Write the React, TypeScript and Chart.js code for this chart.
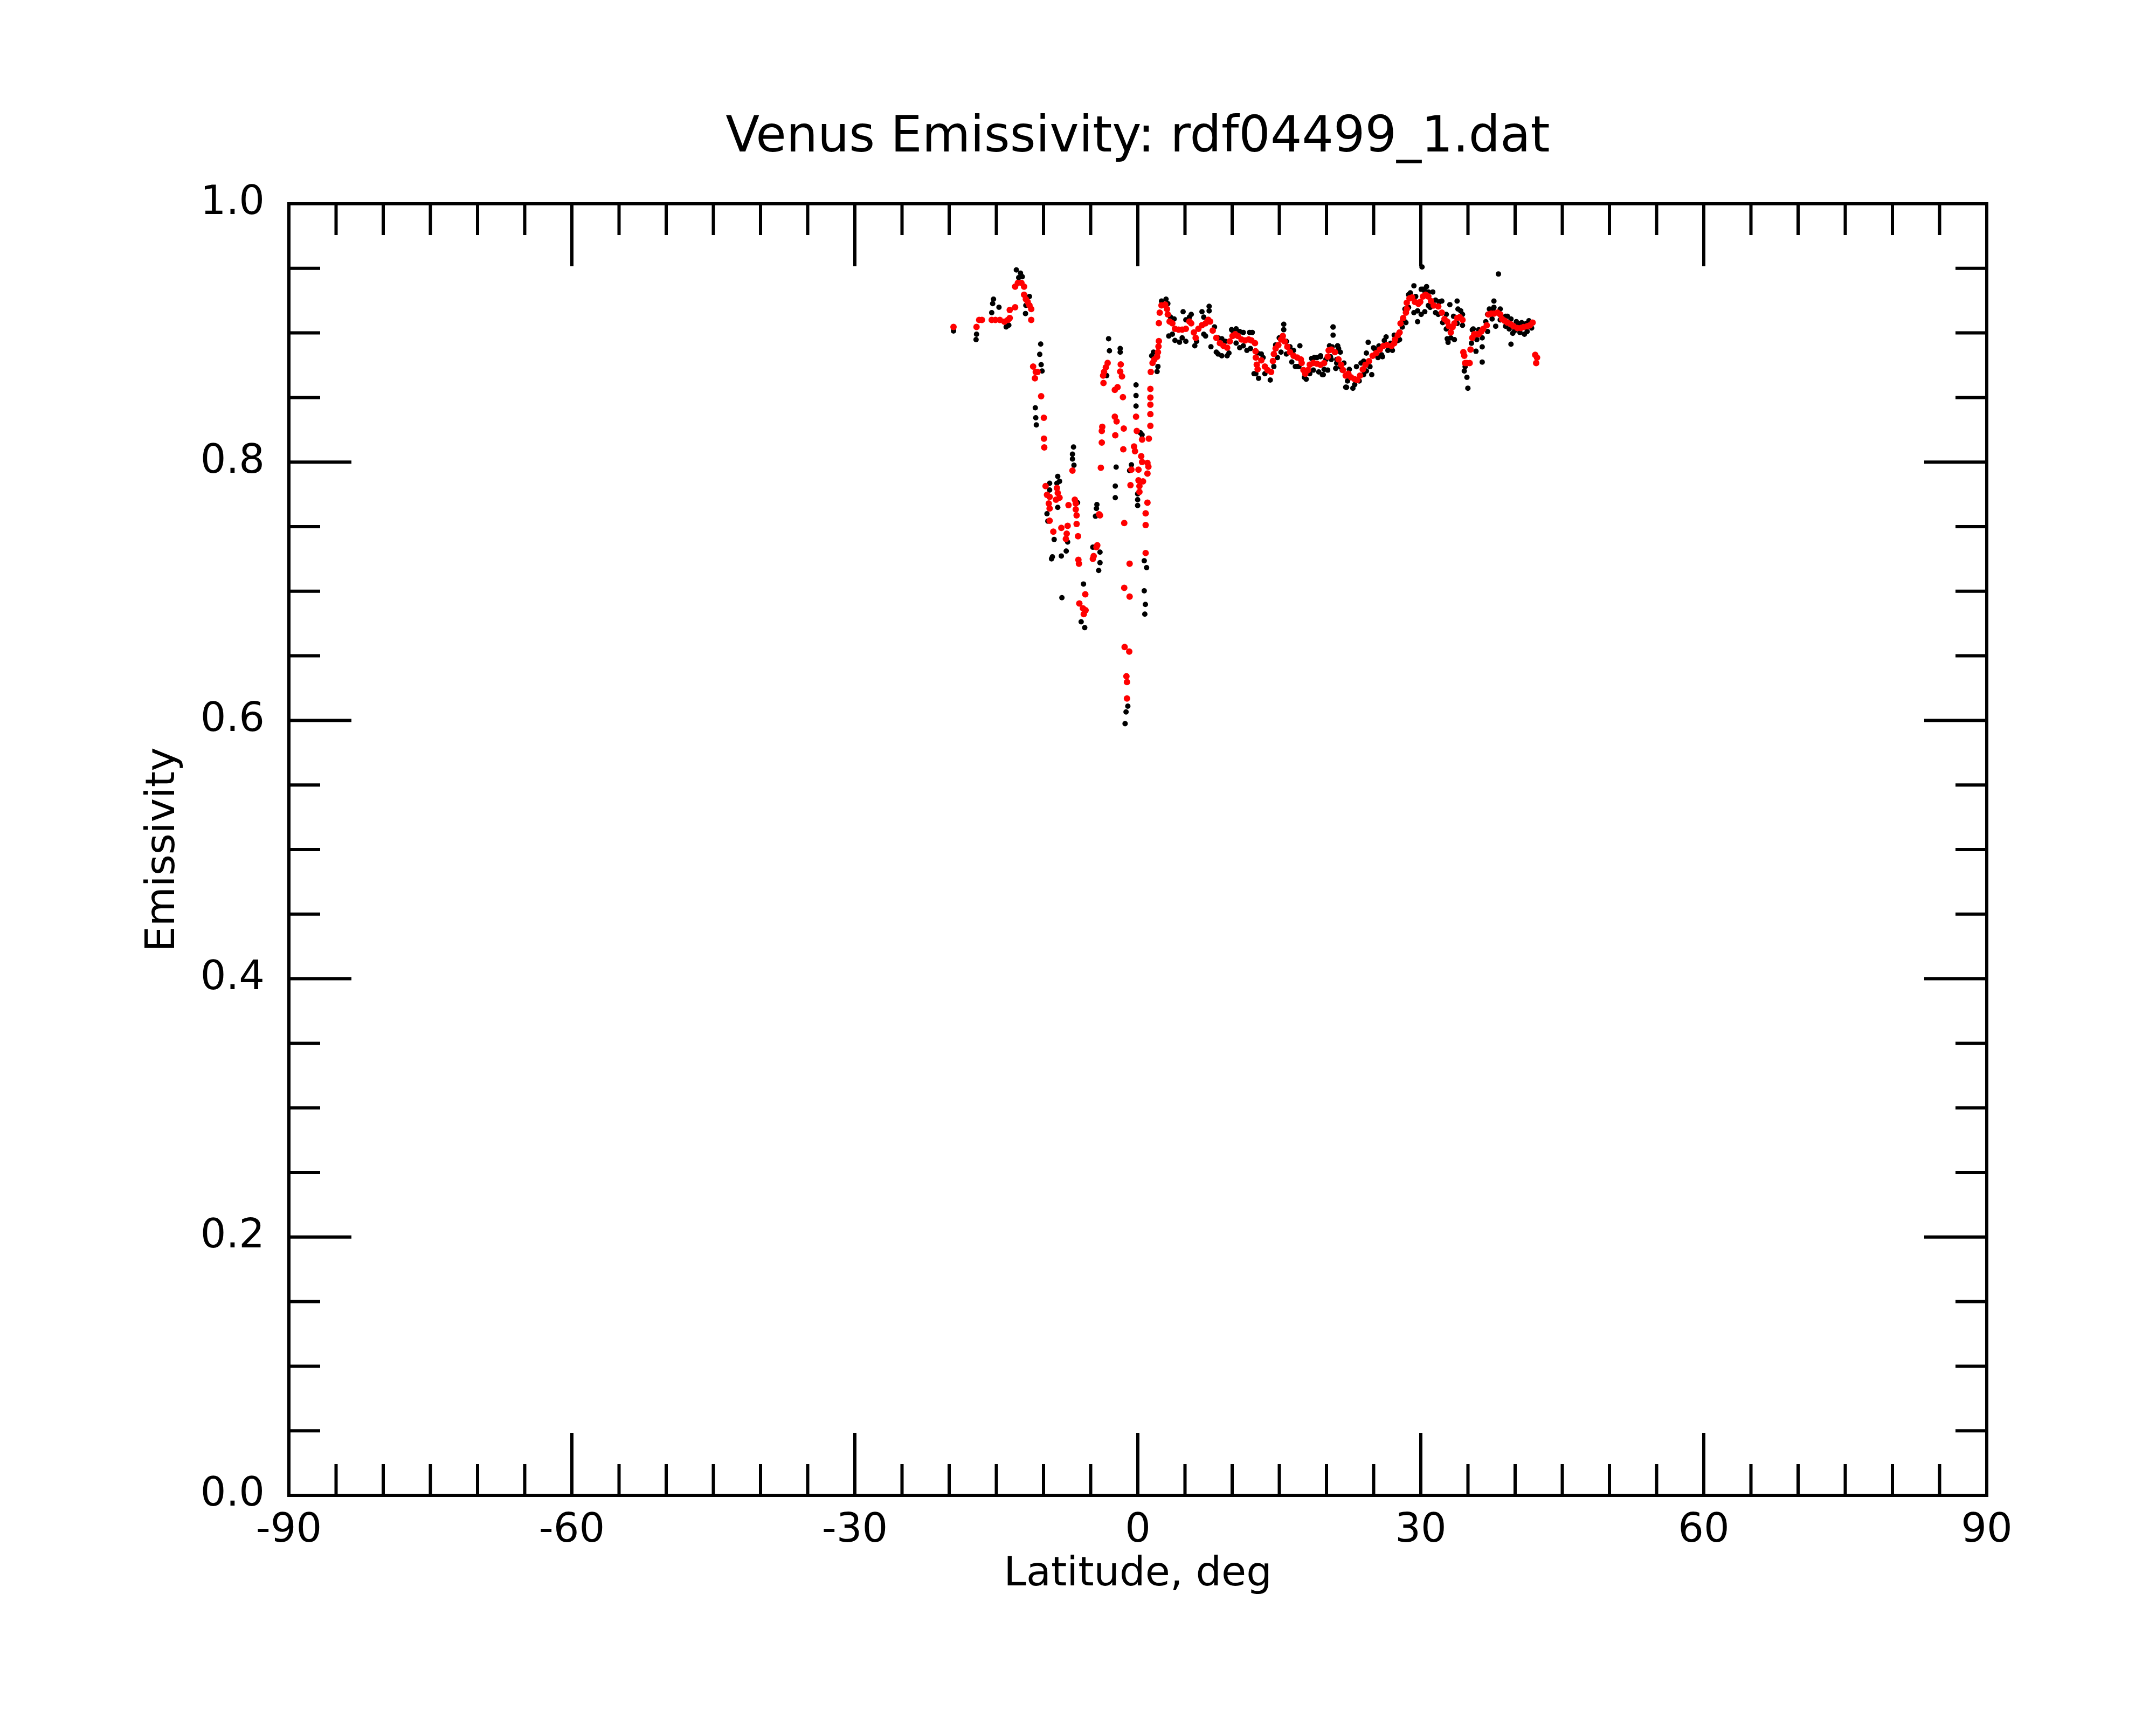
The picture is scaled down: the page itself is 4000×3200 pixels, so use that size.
import React, { useEffect, useRef } from "react";
import { Chart, registerables } from "chart.js";

Chart.register(...registerables);

const TITLE = "Venus Emissivity: rdf04499_1.dat";
const X_TITLE = "Latitude, deg";
const Y_TITLE = "Emissivity";
const X_MIN = -90;
const X_MAX = 90;
const X_STEP = 30;
const X_MINOR = 5;
const Y_MIN = 0;
const Y_MAX = 1;
const Y_STEP = 0.2;
const Y_MINOR = 0.05;

// [latitude, emissivity] pairs
const redSouth: [number, number][] = [
  [-19.54, 0.9046], [-17.1, 0.9046], [-16.82, 0.9101], [-16.53, 0.9101], [-15.49, 0.9101], [-15.1, 0.9101],
  [-14.63, 0.9101], [-14.15, 0.9087], [-13.77, 0.9101], [-13.58, 0.9115], [-13.58, 0.9178], [-13.01, 0.9199],
  [-13.01, 0.9358], [-12.72, 0.9387], [-12.34, 0.9387], [-12.06, 0.9358], [-12.06, 0.9296], [-11.87, 0.9261],
  [-11.68, 0.924], [-11.49, 0.9213], [-11.3, 0.9185], [-11.3, 0.9101], [-11.1, 0.874], [-10.91, 0.8649],
  [-10.82, 0.8698], [-10.63, 0.8698], [-10.25, 0.851], [-9.96, 0.8343], [-9.95, 0.8181], [-9.92, 0.8114],
];

const redTrough: [number, number][] = [
  [-9.78, 0.7814], [-8.58, 0.7799], [-9.63, 0.7746], [-9.35, 0.7731], [-8.49, 0.7761], [-8.3, 0.7724],
  [-8.68, 0.7709], [-9.44, 0.7679], [-9.35, 0.7641], [-9.35, 0.7546], [-8.96, 0.7461], [-8.11, 0.7491],
  [-7.44, 0.7506], [-7.54, 0.7446], [-7.63, 0.7405], [-7.35, 0.7667], [-6.93, 0.7934], [-6.68, 0.7709],
  [-6.58, 0.7679], [-6.58, 0.7634], [-6.49, 0.7588], [-6.49, 0.7521], [-6.34, 0.7426], [-6.3, 0.7243],
  [-6.24, 0.7213], [-5.57, 0.6976], [-6.2, 0.6905], [-5.82, 0.6868], [-5.54, 0.6853], [-5.73, 0.6823],
  [-4.11, 0.7596], [-4.01, 0.7588], [-4.3, 0.7356], [-4.39, 0.7341], [-4.77, 0.7251], [-4.68, 0.7273],
  [-3.82, 0.8241], [-3.82, 0.8151], [-3.92, 0.7956], [-2.39, 0.8207], [-1.54, 0.8099], [-1.44, 0.7528],
  [-1.44, 0.7026], [-0.87, 0.6958], [-0.87, 0.7213], [-1.4, 0.6568], [-0.91, 0.6533], [-1.21, 0.6342],
  [-1.15, 0.6297], [-1.15, 0.617],
  [-3.2, 0.8768], [-3.39, 0.8733], [-3.58, 0.8698], [-3.68, 0.867], [-1.81, 0.8756], [-1.87, 0.8701],
  [-1.68, 0.8663], [-3.64, 0.8612], [-2.15, 0.858], [-2.44, 0.8559], [-1.58, 0.8503], [-0.19, 0.8351],
  [-3.77, 0.8273], [-2.44, 0.8351], [-2.25, 0.8315], [-1.49, 0.826],
  [-0.11, 0.8241], [0.45, 0.8174], [1.17, 0.8181], [-0.4, 0.8121], [-0.3, 0.8084], [0.36, 0.8046],
  [0.45, 0.8001], [1.02, 0.7994], [1.12, 0.7964], [1.02, 0.7911], [0.07, 0.7941], [-0.68, 0.7941],
  [-0.78, 0.7821], [0.07, 0.7859], [0.55, 0.7851], [0.17, 0.7814], [0.17, 0.7769], [1.02, 0.7686],
  [0.83, 0.7603], [0.83, 0.7513], [0.83, 0.7296],
  [1.33, 0.8566], [1.33, 0.85], [1.33, 0.8444], [1.33, 0.8371], [1.33, 0.828],
  [1.37, 0.8698], [1.56, 0.8768], [1.75, 0.8795], [2.04, 0.8816], [2.13, 0.8851], [2.19, 0.8895],
  [2.23, 0.8937], [2.23, 0.9076], [2.32, 0.9157], [2.51, 0.9213], [2.9, 0.922], [3.09, 0.9185],
];

const redNorth: [number, number][] = [
  [3.18, 0.9143], [3.37, 0.9088], [3.66, 0.9074], [3.94, 0.9032], [4.32, 0.9025], [4.7, 0.9025],
  [5.09, 0.9032], [5.47, 0.9088], [5.66, 0.9074], [5.94, 0.9004], [6.13, 0.8962], [6.42, 0.9032],
  [6.8, 0.906], [7.18, 0.9074], [7.47, 0.9102], [7.66, 0.9088], [7.94, 0.9018], [8.32, 0.8962],
  [8.7, 0.8921], [9.08, 0.89], [9.47, 0.8886], [9.75, 0.8935], [10.04, 0.8976], [10.32, 0.899],
  [10.61, 0.8976], [10.99, 0.8949], [11.37, 0.8942], [11.75, 0.8949], [12.04, 0.8942], [12.42, 0.8921],
  [12.48, 0.8858], [12.51, 0.8809], [12.61, 0.8754], [12.7, 0.8719], [13.09, 0.8788], [13.47, 0.874],
  [13.75, 0.8712], [14.13, 0.8698], [14.32, 0.8782], [14.42, 0.8837], [14.61, 0.8879], [14.9, 0.8907],
  [15.18, 0.8949], [15.37, 0.8976], [15.56, 0.8935], [15.85, 0.8893], [16.13, 0.8851], [16.51, 0.8823],
  [16.9, 0.8809], [17.28, 0.8795], [17.37, 0.8768], [17.56, 0.8712], [17.75, 0.8684], [18.04, 0.8712],
  [18.23, 0.8754], [18.61, 0.8768], [18.99, 0.8761],
  [19.37, 0.8753], [19.75, 0.8767], [20.13, 0.8816], [20.23, 0.8865], [20.51, 0.8871], [20.89, 0.8851],
  [21.27, 0.8795], [21.56, 0.8753], [21.75, 0.8712], [22.04, 0.867], [22.32, 0.8684], [22.61, 0.8656],
  [22.99, 0.8642], [23.27, 0.8635], [23.56, 0.867], [23.85, 0.8718], [24.13, 0.8753], [24.51, 0.8781],
  [24.89, 0.8823], [25.27, 0.8844], [25.66, 0.8871], [26.04, 0.8899], [26.42, 0.8906], [26.89, 0.8899],
  [27.18, 0.892], [27.27, 0.8948], [27.56, 0.8983], [27.75, 0.9004], [27.85, 0.9073], [28.13, 0.9115],
  [28.42, 0.9157], [28.51, 0.9185], [28.51, 0.9233], [28.8, 0.9268], [29.08, 0.9275], [29.37, 0.924],
  [29.75, 0.9226], [29.94, 0.924], [30.23, 0.9282], [30.51, 0.9296], [30.8, 0.9282], [31.08, 0.9247],
  [31.37, 0.9212], [31.85, 0.9205], [32.23, 0.9157], [32.51, 0.9108], [32.8, 0.9087], [32.99, 0.9052],
  [33.18, 0.9004], [33.37, 0.9045], [33.56, 0.9073], [33.85, 0.9115], [34.13, 0.9122], [34.42, 0.9101],
  [34.51, 0.8851], [34.61, 0.8823], [34.7, 0.8767], [34.89, 0.8767], [35.18, 0.8767], [35.27, 0.8871],
  [35.46, 0.8962], [35.66, 0.899], [35.94, 0.899], [36.13, 0.899], [36.42, 0.9011], [36.61, 0.9031],
  [36.99, 0.9059], [37.18, 0.9143], [37.46, 0.915], [37.75, 0.915], [38.13, 0.9157], [38.42, 0.9143],
  [38.61, 0.9108], [38.89, 0.9094], [39.18, 0.908], [39.56, 0.9066], [39.85, 0.9052], [40.23, 0.9038],
  [40.61, 0.9038], [40.89, 0.9045], [41.27, 0.9052], [41.56, 0.9059], [41.85, 0.908], [42.13, 0.883],
  [42.32, 0.8809], [42.23, 0.8767],
];

const blackSouth: [number, number][] = [
  [-19.54, 0.9015], [-17.1, 0.899], [-17.15, 0.8948], [-15.3, 0.9261], [-15.39, 0.9227], [-14.72, 0.9199],
  [-15.49, 0.9157], [-13.96, 0.9046], [-13.68, 0.906], [-12.88, 0.9488], [-12.44, 0.9463], [-12.25, 0.9435],
  [-12.63, 0.9428], [-11.49, 0.9282], [-11.87, 0.9213], [-11.91, 0.915], [-10.3, 0.8914], [-10.4, 0.8834],
  [-10.25, 0.8754], [-10.15, 0.8705], [-10.87, 0.842], [-10.82, 0.8343], [-10.76, 0.8288],
];

const blackTrough: [number, number][] = [
  [-6.82, 0.8117], [-6.93, 0.8061], [-6.93, 0.8024], [-6.77, 0.7976], [-9.35, 0.7836], [-8.49, 0.7889],
  [-8.3, 0.7851], [-8.58, 0.7836], [-9.35, 0.7784], [-8.49, 0.7649], [-9.63, 0.76], [-9.54, 0.7543],
  [-8.87, 0.7401], [-7.44, 0.7381], [-7.59, 0.7311], [-8.11, 0.7273], [-9.06, 0.7266], [-9.15, 0.7251],
  [-6.39, 0.7686], [-8.05, 0.695], [-5.76, 0.7056], [-6.01, 0.6763], [-5.63, 0.6718], [-4.34, 0.7671],
  [-4.39, 0.7641], [-4.49, 0.7581], [-4.77, 0.7341], [-4.01, 0.7303], [-4.01, 0.7221], [-4.15, 0.7161],
  [-2.3, 0.7961], [-2.39, 0.7814], [-2.39, 0.7724], [-1.06, 0.611], [-1.25, 0.6065], [-1.35, 0.5975],
  [0.26, 0.8227], [0.45, 0.8211], [-0.68, 0.7979], [-0.87, 0.7934], [-0.02, 0.7754], [-0.02, 0.7709],
  [-0.02, 0.7664], [0.68, 0.7236], [0.93, 0.7183], [0.68, 0.7003], [0.8, 0.6898], [0.74, 0.6823],
  [-3.1, 0.8955], [-3.01, 0.8862], [-1.87, 0.8879], [-1.87, 0.8851], [-3.3, 0.867], [-0.19, 0.8598],
  [-0.19, 0.8515], [-0.19, 0.8434],
  [1.47, 0.8823], [1.66, 0.8851], [2.13, 0.874], [2.04, 0.8701], [2.51, 0.9247], [2.99, 0.9261],
  [3.18, 0.9227],
];

const blackNorth: [number, number][] = [
  [4.8, 0.9164], [5.66, 0.9143], [6.8, 0.9164], [7.56, 0.9206], [7.56, 0.9171], [3.28, 0.8976],
  [3.94, 0.8942], [4.42, 0.8928], [5.09, 0.8935], [6.04, 0.89], [7.75, 0.8893], [8.51, 0.8837],
  [9.47, 0.8823], [10.04, 0.9018], [10.8, 0.8886], [11.56, 0.8865], [11.85, 0.9004], [12.51, 0.8684],
  [12.8, 0.8649], [14.04, 0.8635], [13.09, 0.8837], [15.47, 0.9067], [15.47, 0.9025], [14.8, 0.8809],
  [16.32, 0.8775], [16.9, 0.874], [17.18, 0.89], [17.66, 0.8656], [18.7, 0.8809], [19.37, 0.8823],
  [19.56, 0.8677], [20.7, 0.9046], [20.7, 0.8983], [21.18, 0.89], [20.99, 0.8726], [22.04, 0.858],
  [3.47, 0.9122], [3.85, 0.9108], [5.09, 0.9102], [5.47, 0.9122], [6.99, 0.9122], [8.13, 0.9046],
  [8.51, 0.8962], [8.9, 0.8955], [9.28, 0.8935], [9.94, 0.9025], [10.42, 0.9032], [10.8, 0.9011],
  [11.18, 0.9004], [12.13, 0.9004], [12.7, 0.8844], [13.28, 0.8809], [14.61, 0.8907], [14.99, 0.8962],
  [15.75, 0.8935], [16.13, 0.8893], [16.51, 0.8865], [18.42, 0.8802], [18.99, 0.8809], [19.94, 0.8795],
  [20.32, 0.89], [21.28, 0.8879],
  [3.66, 0.899], [4.7, 0.8962], [6.23, 0.8935], [6.99, 0.899], [7.18, 0.8976], [8.32, 0.8851],
  [8.9, 0.8823], [9.66, 0.8844], [10.42, 0.8921], [11.18, 0.89], [11.94, 0.8879], [12.32, 0.8684],
  [13.47, 0.8684], [14.42, 0.874], [15.18, 0.8851], [15.75, 0.8837], [16.7, 0.874], [17.08, 0.874],
  [17.85, 0.8642], [18.23, 0.8684], [18.61, 0.8712], [19.18, 0.8698], [20.13, 0.8712], [20.51, 0.8795],
  [21.09, 0.8795], [21.47, 0.874],
  [19.37, 0.8816], [19.66, 0.8677], [20.7, 0.9045], [20.61, 0.8892], [21.18, 0.8899], [21.47, 0.8851],
  [20.99, 0.8725], [22.13, 0.8579], [22.8, 0.8572], [23.18, 0.8739], [24.23, 0.8705], [24.8, 0.8677],
  [24.42, 0.8927], [24.23, 0.8844], [24.99, 0.8885], [25.94, 0.8816], [26.32, 0.8969], [26.61, 0.8878],
  [27.18, 0.8983], [27.75, 0.8948], [28.42, 0.908], [28.89, 0.931], [29.27, 0.9365], [30.23, 0.9338],
  [30.61, 0.9358], [31.27, 0.9317], [30.99, 0.9198], [29.66, 0.9171], [30.42, 0.9164], [29.66, 0.9087],
  [30.04, 0.9338], [30.13, 0.9511], [32.23, 0.9247], [33.08, 0.9219], [33.85, 0.9247], [33.94, 0.9185],
  [32.8, 0.8955], [32.89, 0.8927], [33.56, 0.8948], [33.18, 0.9004], [31.85, 0.9143], [34.61, 0.8705],
  [34.89, 0.8656], [34.99, 0.8572], [35.46, 0.9024], [35.85, 0.8858], [36.51, 0.8892], [36.51, 0.8774],
  [37.75, 0.9247], [37.75, 0.9198], [38.23, 0.9456], [37.08, 0.9143], [37.94, 0.9052], [39.18, 0.9129],
  [39.37, 0.9031], [39.75, 0.8997], [39.56, 0.8913], [40.99, 0.899], [41.18, 0.9073], [40.32, 0.9073],
  [21.85, 0.8767], [22.42, 0.8718], [23.66, 0.8767], [23.94, 0.8781], [25.08, 0.8878], [25.56, 0.8899],
  [26.13, 0.8941], [26.8, 0.892], [27.37, 0.8976], [28.08, 0.9108], [28.32, 0.9185], [28.7, 0.9296],
  [29.46, 0.9282], [30.42, 0.9324], [30.8, 0.9317], [31.56, 0.9254], [31.94, 0.924], [32.7, 0.9143],
  [33.47, 0.9129], [34.23, 0.9171], [34.42, 0.9143], [35.56, 0.9031], [36.13, 0.9024], [36.89, 0.9087],
  [37.27, 0.9185], [37.66, 0.9185], [38.42, 0.9185], [38.99, 0.9129], [39.56, 0.9108], [40.13, 0.9087],
  [40.7, 0.908], [41.46, 0.9094],
  [19.75, 0.8718], [20.42, 0.8816], [21.08, 0.8767], [21.66, 0.8712], [22.23, 0.8628], [22.99, 0.86],
  [23.47, 0.8628], [23.94, 0.8677], [24.61, 0.8739], [25.46, 0.8809], [25.85, 0.883], [26.51, 0.8865],
  [26.99, 0.8865], [27.56, 0.8941], [28.04, 0.9045], [28.32, 0.9087], [28.7, 0.9198], [29.27, 0.9157],
  [30.04, 0.9143], [30.8, 0.9212], [31.56, 0.9157], [32.32, 0.908], [32.7, 0.9031], [33.18, 0.8962],
  [33.85, 0.9073], [34.42, 0.9059], [34.7, 0.8739], [35.37, 0.892], [35.94, 0.8948], [36.51, 0.8962],
  [37.08, 0.9011], [37.56, 0.9108], [38.42, 0.9101], [38.99, 0.9052], [39.94, 0.9017], [40.51, 0.9004],
  [41.27, 0.9011], [41.75, 0.9038],
];

const FONT = "DejaVu Sans";

export default function App() {
  const ref = useRef<HTMLCanvasElement>(null);

  useEffect(() => {
    document.body.style.margin = "0";
    const canvas = ref.current;
    if (!canvas) return;

    const toPts = (arrs: [number, number][][]) =>
      arrs.flat().map(([x, y]) => ({ x, y }));

    const framePlugin = {
      id: "frameTicks",
      beforeDatasetsDraw(chart: any) {
        const { ctx, chartArea } = chart;
        const { left, right, top, bottom } = chartArea;
        const xs = chart.scales.x;
        const ys = chart.scales.y;
        ctx.save();
        ctx.strokeStyle = "#000";
        ctx.lineWidth = 6;
        ctx.lineCap = "butt";
        ctx.beginPath();
        const nx = Math.round((X_MAX - X_MIN) / X_MINOR);
        for (let i = 0; i <= nx; i++) {
          const v = X_MIN + i * X_MINOR;
          const px = xs.getPixelForValue(v);
          const major = Math.abs(Math.round(v / X_STEP) * X_STEP - v) < 1e-9;
          const len = major ? 116 : 58;
          ctx.moveTo(px, bottom);
          ctx.lineTo(px, bottom - len);
          ctx.moveTo(px, top);
          ctx.lineTo(px, top + len);
        }
        const ny = Math.round((Y_MAX - Y_MIN) / Y_MINOR);
        for (let i = 0; i <= ny; i++) {
          const v = Y_MIN + i * Y_MINOR;
          const py = ys.getPixelForValue(v);
          const major = Math.abs(Math.round(v / Y_STEP) * Y_STEP - v) < 1e-9;
          const len = major ? 116 : 58;
          ctx.moveTo(left, py);
          ctx.lineTo(left + len, py);
          ctx.moveTo(right, py);
          ctx.lineTo(right - len, py);
        }
        ctx.stroke();
        ctx.lineJoin = "miter";
        ctx.strokeRect(left, top, right - left, bottom - top);
        ctx.restore();
      },
      afterDraw(chart: any) {
        const { ctx, chartArea } = chart;
        ctx.save();
        ctx.fillStyle = "#000";
        ctx.font = `normal 92px "${FONT}"`;
        ctx.textAlign = "center";
        ctx.textBaseline = "middle";
        ctx.fillText(TITLE, (chartArea.left + chartArea.right) / 2, 257);
        ctx.restore();
      },
    };

    const chart = new Chart(canvas, {
      type: "scatter",
      data: {
        datasets: [
          {
            label: "smoothed",
            data: toPts([redSouth, redTrough, redNorth]),
            pointRadius: 6,
            pointBackgroundColor: "#ff0000",
            pointBorderColor: "#ff0000",
            pointBorderWidth: 0,
            pointHoverRadius: 6,
          },
          {
            label: "raw",
            data: toPts([blackSouth, blackTrough, blackNorth]),
            pointRadius: 5,
            pointBackgroundColor: "#000000",
            pointBorderColor: "#000000",
            pointBorderWidth: 0,
            pointHoverRadius: 5,
          },
        ],
      },
      options: {
        animation: false,
        responsive: false,
        maintainAspectRatio: false,
        devicePixelRatio: 1,
        layout: { padding: { left: 0, right: 314, top: 378, bottom: 0 } },
        plugins: {
          legend: { display: false },
          tooltip: { enabled: false },
          title: { display: false },
        },
        scales: {
          x: {
            type: "linear",
            position: "bottom",
            min: X_MIN,
            max: X_MAX,
            afterFit: (s: any) => {
              s.height = 426;
            },
            grid: { display: false },
            border: { display: false },
            ticks: {
              stepSize: X_STEP,
              autoSkip: false,
              maxRotation: 0,
              minRotation: 0,
              color: "#000",
              padding: 14,
              font: { family: FONT, size: 75, lineHeight: 1.2 },
              callback: (v: any) => String(Math.round(Number(v))),
            },
            title: {
              display: true,
              text: X_TITLE,
              color: "#000",
              font: { family: FONT, size: 75, lineHeight: 1.2 },
              padding: { top: 0, bottom: 233 },
            },
          },
          y: {
            type: "linear",
            position: "left",
            min: Y_MIN,
            max: Y_MAX,
            afterFit: (s: any) => {
              s.width = 536;
            },
            grid: { display: false },
            border: { display: false },
            ticks: {
              stepSize: Y_STEP,
              autoSkip: false,
              color: "#000",
              padding: 37,
              font: { family: FONT, size: 75, lineHeight: 1.2 },
              callback: (v: any) => Number(v).toFixed(1),
            },
            title: {
              display: true,
              text: Y_TITLE,
              color: "#000",
              font: { family: FONT, size: 75, lineHeight: 1.2 },
              padding: { top: 259, bottom: 0 },
            },
          },
        },
      },
      plugins: [framePlugin],
    });

    return () => chart.destroy();
  }, []);

  return (
    <div style={{ width: 4000, height: 3200, background: "#fff" }}>
      <canvas ref={ref} width={4000} height={3200} style={{ display: "block", width: 4000, height: 3200 }} />
    </div>
  );
}
